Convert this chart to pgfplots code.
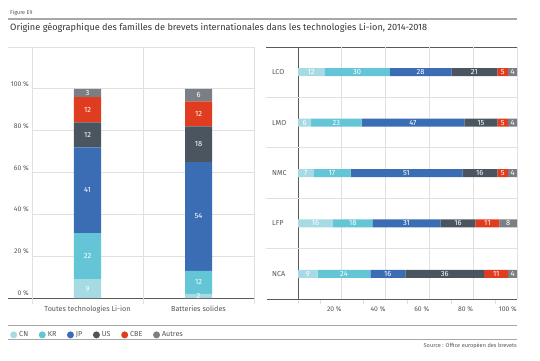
\documentclass[border=0pt]{standalone}
\usepackage{fontspec}
\setmainfont{Fira Sans}
\usepackage{pgfplots}
\pgfplotsset{compat=1.18}
\usepackage{pgfplotstable}
\definecolor{cn}{HTML}{A6DBE3}
\definecolor{kr}{HTML}{63C5D5}
\definecolor{jp}{HTML}{3B6DB4}
\definecolor{us}{HTML}{4B5560}
\definecolor{cbe}{HTML}{E03C1F}
\definecolor{autres}{HTML}{7A7F86}
\definecolor{gridc}{HTML}{E0E0E0}
\definecolor{axisc}{HTML}{5A5A5A}
\definecolor{txt}{HTML}{555555}
\definecolor{titlec}{HTML}{353535}
\definecolor{rule}{HTML}{A8A8A8}
\newcommand\ticklab{\fontsize{6.8}{7.5}\selectfont}
\newcommand\catlab{\fontsize{7.2}{8}\selectfont}
\newcommand\barlab{\fontsize{7.5}{8}\selectfont}

% left panel: shares (height of each segment as drawn)
\pgfplotstableread{
cat CN KR JP US CBE Autres
0   9  22 41 12 12  4
1   2  11 52 17 12  6
}\ldata
% left panel: printed values, at the middle of each segment
\pgfplotstableread{
x y lab
0 4.5 9
0 20 22
0 51.5 41
0 78 12
0 90 12
0 98 3
1 1 2
1 7.5 12
1 39 54
1 73.5 18
1 88 12
1 97 6
}\llab
% right panel
\pgfplotstableread{
cat CN KR JP US CBE Autres
4   12 30 28 21 5 4
3   6  23 47 15 5 4
2   7  17 51 16 5 4
1   16 18 31 16 11 8
0   9  24 16 36 11 4
}\rdata
\pgfplotstableread{
x y lab
6 4 12
27 4 30
56 4 28
80.5 4 21
93.5 4 5
98 4 4
3 3 6
17.5 3 23
52.5 3 47
83.5 3 15
93.5 3 5
98 3 4
3.5 2 7
15.5 2 17
49.5 2 51
83 2 16
93.5 2 5
98 2 4
8 1 16
25 1 18
49.5 1 31
73 1 16
86.5 1 11
96 1 8
4.5 0 9
21 0 24
41 0 16
67 0 36
90.5 0 11
98 0 4
}\rlab

\pgfplotsset{dotlegend/.style={legend image code/.code={\fill (0pt,0pt) circle (3.5pt);}}}

\begin{document}
\begin{tikzpicture}[x=1pt,y=1pt]
\useasboundingbox (0,0) rectangle (540,360);
% header
\node[anchor=west, font=\fontsize{5.5}{6}\selectfont, text=txt, inner sep=0pt] at (10,347) {Figure E9};
\draw[line width=1.2pt, color=rule] (8,341) -- (517,341);
\node[anchor=west, font=\fontsize{9.15}{11}\selectfont, text=titlec, inner sep=0pt] at (10,332) {Origine géographique des familles de brevets internationales dans les technologies Li-ion, 2014-2018};
% panel top lines
\draw[gridc, line width=0.8pt] (8,313) -- (254,313);
\draw[axisc, line width=0.8pt] (266,313) -- (517,313);
% bottom lines extending left of the axes
\draw[axisc, line width=0.8pt] (8,62) -- (32,62);
\draw[axisc, line width=0.8pt] (267,61) -- (298,61);
% legend rules and source
\draw[rule, line width=0.6pt] (8,35) -- (517,35);
\draw[rule, line width=0.6pt] (8,21) -- (517,21);
\node[anchor=east, font=\fontsize{5.6}{6}\selectfont, text=txt, inner sep=0pt] at (517,14) {Source : Office européen des brevets};

% ---------- left panel ----------
\begin{axis}[
  at={(32pt,62pt)}, anchor=south west, scale only axis, width=222pt, height=251pt,
  ybar stacked, bar width=27pt,
  xmin=-0.5, xmax=1.5, ymin=0, ymax=120, enlargelimits=false,
  axis lines=left, axis line style={draw=axisc, -, line width=0.8pt},
  ytick={0,20,40,60,80,100}, yticklabels={0 \%,20 \%,40 \%,60 \%,80 \%,100 \%},
  ymajorgrids, major grid style={draw=gridc, line width=0.7pt},
  xtick={0,1}, xticklabels={Toutes technologies Li-ion, Batteries solides},
  major tick length=0pt,
  extra x ticks={-0.5,0.5,1.5}, extra x tick labels={},
  extra x tick style={grid=major, major tick length=6pt, tick align=outside, tick style={draw=gridc, line width=0.7pt}},
  yticklabel style={anchor=south east, inner sep=0pt, xshift=-3pt, yshift=2pt, font=\ticklab, text=txt},
  xticklabel style={anchor=north, inner sep=0pt, yshift=-8pt, font=\catlab, text=txt},
  legend style={at={(axis description cs:-0.099,-0.147)}, anchor=west, draw=none, fill=none,
    inner sep=0pt, font=\catlab, text=txt, legend columns=-1,
    /tikz/every even column/.append style={column sep=8.6pt}},
  clip=false,
]
\addplot[fill=cn, draw=none, dotlegend] table[x=cat, y=CN] \ldata; \addlegendentry{CN}
\addplot[fill=kr, draw=none, dotlegend] table[x=cat, y=KR] \ldata; \addlegendentry{KR}
\addplot[fill=jp, draw=none, dotlegend] table[x=cat, y=JP] \ldata; \addlegendentry{JP}
\addplot[fill=us, draw=none, dotlegend] table[x=cat, y=US] \ldata; \addlegendentry{US}
\addplot[fill=cbe, draw=none, dotlegend] table[x=cat, y=CBE] \ldata; \addlegendentry{CBE}
\addplot[fill=autres, draw=none, dotlegend] table[x=cat, y=Autres] \ldata; \addlegendentry{Autres}
\end{axis}
\begin{axis}[
  at={(32pt,62pt)}, anchor=south west, scale only axis, width=222pt, height=251pt,
  xmin=-0.5, xmax=1.5, ymin=0, ymax=120, hide axis, clip=false]
\addplot[draw=none, mark=none, nodes near coords, point meta=explicit symbolic,
  every node near coord/.append style={anchor=center, text=white, font=\barlab, inner sep=0pt}]
  table[x=x, y=y, meta=lab] \llab;
\end{axis}

% ---------- right panel ----------
\begin{axis}[
  at={(298pt,61pt)}, anchor=south west, scale only axis, width=219pt, height=252pt,
  xbar stacked, bar width=8pt,
  xmin=0, xmax=100, ymin=-0.5, ymax=4.5, enlargelimits=false,
  axis lines=left, axis line style={draw=axisc, -, line width=0.8pt},
  xtick={20,40,60,80,100}, xticklabels={20 \%,40 \%,60 \%,80 \%,100 \%},
  minor xtick={0,10,30,50,70,90},
  xmajorgrids, major grid style={draw=gridc, line width=0.7pt},
  major tick length=0pt, minor tick length=5pt, tick align=outside,
  minor tick style={draw=gridc, line width=0.7pt},
  ytick={0,1,2,3,4}, yticklabels={NCA,LFP,NMC,LMO,LCO},
  extra y ticks={0.5,1.5,2.5,3.5}, extra y tick labels={},
  extra y tick style={grid=major, major tick length=32pt, tick align=outside, tick style={draw=gridc, line width=0.7pt}},
  xticklabel style={anchor=north east, inner sep=0pt, yshift=-7pt, font=\ticklab, text=txt},
  yticklabel style={anchor=west, inner sep=0pt, xshift=-26pt, font=\catlab, text=txt},
  clip=false,
]
\addplot[fill=cn, draw=none] table[x=CN, y=cat] \rdata;
\addplot[fill=kr, draw=none] table[x=KR, y=cat] \rdata;
\addplot[fill=jp, draw=none] table[x=JP, y=cat] \rdata;
\addplot[fill=us, draw=none] table[x=US, y=cat] \rdata;
\addplot[fill=cbe, draw=none] table[x=CBE, y=cat] \rdata;
\addplot[fill=autres, draw=none] table[x=Autres, y=cat] \rdata;
\end{axis}
\begin{axis}[
  at={(298pt,61pt)}, anchor=south west, scale only axis, width=219pt, height=252pt,
  xmin=0, xmax=100, ymin=-0.5, ymax=4.5, hide axis, clip=false]
\addplot[draw=none, mark=none, nodes near coords, point meta=explicit symbolic,
  every node near coord/.append style={anchor=center, text=white, font=\barlab, inner sep=0pt}]
  table[x=x, y=y, meta=lab] \rlab;
\end{axis}
\end{tikzpicture}
\end{document}
